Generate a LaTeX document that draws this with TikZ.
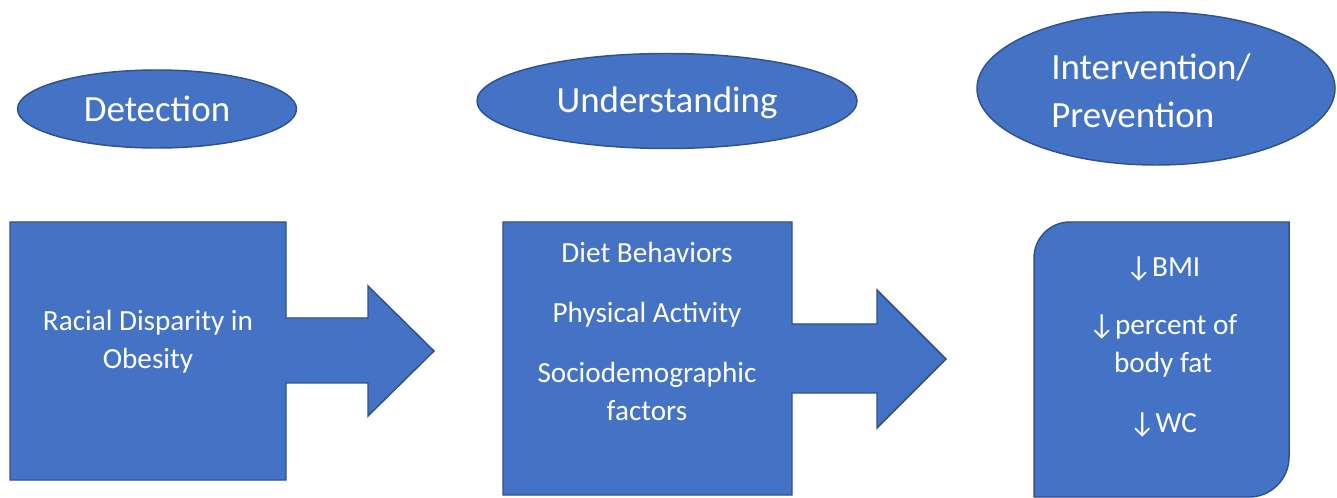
\documentclass[tikz,border=0pt]{standalone}
\usepackage{fontspec}
\setmainfont{Carlito}
\usetikzlibrary{shapes.geometric}
\definecolor{azul}{HTML}{4472C4}
\definecolor{borde}{HTML}{2F528F}

\begin{document}
\begin{tikzpicture}[x=0.75pt,y=0.75pt,
    forma/.style={fill=azul,draw=borde,line width=1.1pt,line join=miter},
    etapa/.style={ellipse,fill=azul,draw=borde,line width=1.1pt,inner sep=0pt,
      text=white,font=\fontsize{27.7}{36}\selectfont},
    texto/.style={text=white,align=center,font=\fontsize{21.9}{28.5}\selectfont}]
        % Marco de la figura
        \useasboundingbox (0,0) rectangle (1337,-498);
        % Elipses de las etapas
        \node[etapa,minimum width=209.25pt,minimum height=58.5pt] (deteccion) at (157,-109) {Detection};
        \node[etapa,minimum width=285pt,minimum height=71.25pt] (comprension) at (667,-101) {};
        \node[text=white,font=\fontsize{27.7}{36}\selectfont] (comprensionTxt) at (667,-103) {Understanding};
        \node[etapa,minimum width=268.5pt,minimum height=114.75pt] (intervencion) at (1156,-88.5) {};
        \node[text=white,font=\fontsize{27.7}{36}\selectfont,align=left] (intervencionTxt) at (1151,-91) {Intervention/\\Prevention};
        % Caja con flecha (primera)
        \draw[forma] (10,-222) -- (286,-222) -- (286,-318) -- (368,-318) -- (368,-286) -- (434,-351)
            -- (368,-416) -- (368,-383) -- (286,-383) -- (286,-480) -- (10,-480) -- cycle;
        \node[texto] (disparidad) at (148,-342) {Racial Disparity in\\Obesity};
        % Caja con flecha (segunda)
        \draw[forma] (503,-222) -- (792,-222) -- (792,-324) -- (877,-324) -- (877,-290) -- (946,-359)
            -- (877,-428) -- (877,-393) -- (792,-393) -- (792,-495) -- (503,-495) -- cycle;
        \node[texto] (factores) at (647,-331) {Diet Behaviors\\[16.5pt]Physical Activity\\[16.5pt]Sociodemographic\\factors};
        % Caja redondeada (resultados)
        \draw[forma] (1034,-497) -- (1034,-258) arc[start angle=180,end angle=90,radius=36]
            -- (1289,-222) -- (1289,-457) arc[start angle=0,end angle=-90,radius=40] -- cycle;
        \node[texto] (resultados) at (1163,-347) {↓BMI\\[15pt]↓percent of\\body fat\\[17pt]↓WC};
    \end{tikzpicture}
\end{document}
